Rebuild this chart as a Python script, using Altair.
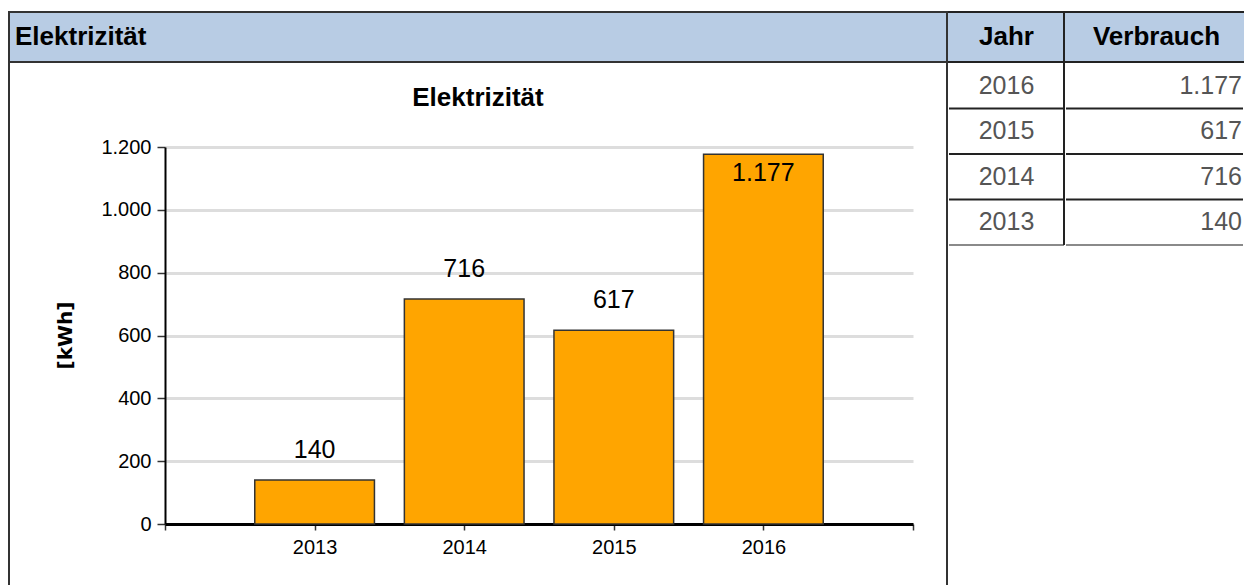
import altair as alt
import pandas as pd

# ---------------- data ----------------
years = [2013, 2014, 2015, 2016]
verbrauch = [140, 716, 617, 1177]
y_ticks = [0, 200, 400, 600, 800, 1000, 1200]
x_ticks = [2012, 2013, 2014, 2015, 2016, 2017]
section_title = "Elektrizität"
chart_title = "Elektrizität"
y_title = "[kWh]"
table_headers = ["Jahr", "Verbrauch"]

FONT = "Liberation Sans"
BLUE = "#B8CCE4"
ORANGE = "#FFA500"
LINE = "#222222"
FRAME = "#333333"

df = pd.DataFrame({"Jahr": years, "Verbrauch": verbrauch})
one = pd.DataFrame({"k": [0]})

LEFT_W, HEAD_H, PANEL_H = 940, 52, 522
JAHR_W, VERB_W, BODY_H = 117, 179, 182


def bar_line(x0, x1, y0, y1, color=LINE):
    """A thin filled rectangle used as a frame line (exact bounds, no stroke)."""
    return alt.Chart(one).mark_rect(color=color, strokeWidth=0).encode(
        x=alt.value(x0), x2=alt.value(x1), y=alt.value(y0), y2=alt.value(y1))


# ---------------- section header ----------------
header_left = alt.layer(
    alt.Chart(pd.DataFrame({"t": [section_title]})).mark_text(
        align="left", baseline="middle", dx=-(LEFT_W / 2) + 7,
        font=FONT, fontSize=26, fontWeight="bold", color="#000"
    ).encode(text="t:N"),
    bar_line(0, LEFT_W, 0, 2, FRAME),
    bar_line(0, LEFT_W, HEAD_H - 2, HEAD_H, FRAME),
    bar_line(0, 2, 0, HEAD_H, FRAME),
    bar_line(LEFT_W - 2, LEFT_W, 0, HEAD_H, FRAME),
).properties(width=LEFT_W, height=HEAD_H,
             view=alt.ViewBackground(fill=BLUE, stroke=None))

# ---------------- bar chart panel ----------------
xs = alt.Scale(domain=[2012, 2017], range=[157, 905], nice=False, zero=False, padding=0)
ys = alt.Scale(domain=[0, 1200], range=[461, 84], nice=False, padding=0)

bars = alt.Chart(df).transform_calculate(
    x_start="datum.Jahr - 0.4", x_end="datum.Jahr + 0.4"
).mark_rect(color=ORANGE, stroke="#333", strokeWidth=1.5).encode(
    x=alt.X("x_start:Q", scale=xs, axis=alt.Axis(
        values=x_ticks, format="d",
        labelExpr="datum.value == 2012 || datum.value == 2017 ? '' : datum.label",
        orient="bottom", offset=-(PANEL_H - 461), title=None, grid=False,
        domainColor="#000", domainWidth=3, tickColor="#333", tickWidth=1.5,
        tickSize=6, labelFont=FONT, labelFontSize=20, labelColor="#000",
        labelPadding=7)),
    x2="x_end:Q",
    y=alt.Y("Verbrauch:Q", scale=ys, axis=alt.Axis(
        values=y_ticks, format=",d", orient="left", offset=-157,
        title=y_title, titleFont="DejaVu Sans", titleFontSize=20,
        titleFontWeight="bold", titleColor="#000", titleX=-100, titleY=272,
        titleAngle=-90, titleAlign="center", titleBaseline="middle",
        grid=True, gridColor="#dddddd", gridWidth=3,
        domainColor="#000", domainWidth=2, tickColor="#333", tickWidth=1.5,
        tickSize=8, labelFont=FONT, labelFontSize=20, labelColor="#000",
        labelPadding=6)),
    y2=alt.datum(0),
)

labels_out = alt.Chart(df).transform_filter("datum.Verbrauch <= 1100").mark_text(
    baseline="alphabetic", dy=-22, font=FONT, fontSize=25, color="#000"
).encode(
    x=alt.X("Jahr:Q", scale=xs),
    y=alt.Y("Verbrauch:Q", scale=ys),
    text=alt.Text("Verbrauch:Q", format=",d"),
)

labels_in = alt.Chart(df).transform_filter("datum.Verbrauch > 1100").mark_text(
    baseline="alphabetic", dy=27, font=FONT, fontSize=25, color="#000"
).encode(
    x=alt.X("Jahr:Q", scale=xs),
    y=alt.Y("Verbrauch:Q", scale=ys),
    text=alt.Text("Verbrauch:Q", format=",d"),
)

panel = alt.layer(
    bars, labels_out, labels_in,
    bar_line(0, 2, 0, PANEL_H, FRAME),
    bar_line(LEFT_W - 2, LEFT_W, 0, PANEL_H, FRAME),
).properties(
    width=LEFT_W, height=PANEL_H,
    title=alt.Title(chart_title, font=FONT, fontSize=26, fontWeight="bold",
                    color="#000", anchor="middle", offset=-48),
    view=alt.ViewBackground(fill="white", stroke=None),
)

# ---------------- table ----------------
row_scale = alt.Scale(paddingInner=0, paddingOuter=0)
row_y = alt.Y("Jahr:O", sort="descending", axis=None, scale=row_scale)
row_end = alt.Y("Jahr:O", sort="descending", axis=None, scale=row_scale, bandPosition=1)
row_color = alt.condition(alt.datum.Jahr == min(years),
                          alt.value("#8a8a8a"), alt.value(LINE))

jahr_head = alt.layer(
    alt.Chart(pd.DataFrame({"h": [table_headers[0]]})).mark_text(
        font=FONT, fontSize=26, fontWeight="bold", color="#000",
        baseline="middle").encode(text="h:N"),
    bar_line(0, JAHR_W, 0, 2),
    bar_line(0, JAHR_W, HEAD_H - 2, HEAD_H),
    bar_line(JAHR_W - 2, JAHR_W, 0, HEAD_H),
).properties(width=JAHR_W, height=HEAD_H,
             view=alt.ViewBackground(fill=BLUE, stroke=None))

verb_head = alt.layer(
    alt.Chart(pd.DataFrame({"h": [table_headers[1]]})).mark_text(
        font=FONT, fontSize=26, fontWeight="bold", color="#000",
        baseline="middle", dx=2).encode(text="h:N"),
    bar_line(0, VERB_W, 0, 2),
    bar_line(0, VERB_W, HEAD_H - 2, HEAD_H),
).properties(width=VERB_W, height=HEAD_H,
             view=alt.ViewBackground(fill=BLUE, stroke=None))

jahr_body = alt.layer(
    alt.Chart(df).mark_rule(strokeWidth=2).encode(
        y=row_end, x=alt.value(1), x2=alt.value(JAHR_W - 1), color=row_color),
    alt.Chart(df).mark_text(font=FONT, fontSize=25, color="#555555",
                            baseline="middle").encode(
        y=row_y, text=alt.Text("Jahr:O")),
    bar_line(JAHR_W - 2, JAHR_W, 0, BODY_H),
).properties(width=JAHR_W, height=BODY_H,
             view=alt.ViewBackground(fill="white", stroke=None))

verb_body = alt.layer(
    alt.Chart(df).mark_rule(strokeWidth=2).encode(
        y=row_end, x=alt.value(1), x2=alt.value(VERB_W - 1), color=row_color),
    alt.Chart(df).mark_text(font=FONT, fontSize=25, color="#555555",
                            baseline="middle", align="right",
                            dx=VERB_W / 2 - 2).encode(
        y=row_y, text=alt.Text("Verbrauch:Q", format=",d")),
).properties(width=VERB_W, height=BODY_H,
             view=alt.ViewBackground(fill="white", stroke=None))

left_col = alt.vconcat(header_left, panel, spacing=0)
table = alt.hconcat(
    alt.vconcat(jahr_head, jahr_body, spacing=0),
    alt.vconcat(verb_head, verb_body, spacing=0),
    spacing=0,
)

chart = alt.hconcat(left_col, table, spacing=0).properties(
    padding={"top": 3, "left": 0, "right": 0, "bottom": 0},
).configure(
    locale={"number": {"decimal": ",", "thousands": ".", "grouping": [3],
                       "currency": ["", "\u00a0€"]}},
).configure_view(stroke=None)

chart.save("out.html", embed_options={"renderer": "svg", "actions": False})
